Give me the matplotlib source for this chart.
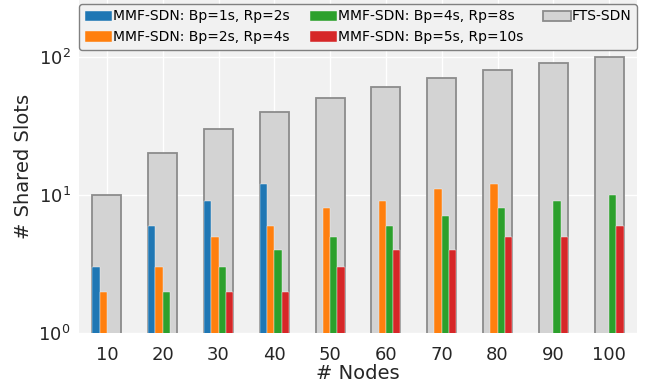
import matplotlib
matplotlib.use("Agg")
import matplotlib.pyplot as plt
import numpy as np

nodes = [10, 20, 30, 40, 50, 60, 70, 80, 90, 100]
fts_sdn = [10, 20, 30, 40, 50, 60, 70, 80, 90, 100]
mmf_1_2 = [3, 6, 9, 12, 0, 0, 0, 0, 0, 0]
mmf_2_4 = [2, 3, 5, 6, 8, 9, 11, 12, 0, 0]
mmf_4_8 = [0, 2, 3, 4, 5, 6, 7, 8, 9, 10]
mmf_5_10 = [0, 0, 2, 2, 3, 4, 4, 5, 5, 6]

series = [
    ("MMF-SDN: Bp=1s, Rp=2s", mmf_1_2, "#1f77b4"),
    ("MMF-SDN: Bp=2s, Rp=4s", mmf_2_4, "#ff7f0e"),
    ("MMF-SDN: Bp=4s, Rp=8s", mmf_4_8, "#2ca02c"),
    ("MMF-SDN: Bp=5s, Rp=10s", mmf_5_10, "#d62728"),
]

plt.rcParams['font.family'] = ['DejaVu Sans']
fig = plt.figure(figsize=(6.48, 3.86), dpi=100)
ax = fig.add_axes([0.122, 0.137, 0.861, 0.863])
ax.set_facecolor("#f1f1f1")

x = np.arange(len(nodes))
W = 0.52
w = W / 4

hf = ax.bar(x, fts_sdn, W, color="#d3d3d3", edgecolor="#8c8c8c", linewidth=1.3,
            label="FTS-SDN", zorder=2)
handles = []
for i, (lab, vals, col) in enumerate(series):
    v = np.array(vals, dtype=float)
    v[v == 0] = np.nan
    h = ax.bar(x + (i - 1.5) * w, v, w, color=col, edgecolor="#f5f5f5",
               linewidth=0.3, label=lab, zorder=3)
    handles.append(h)

ax.set_yscale("log")
ax.set_ylim(1, 257)
ax.set_xlim(-0.5, 9.5)
ax.set_xticks(x)
ax.set_xticklabels([str(n) for n in nodes])
ax.tick_params(axis='x', labelsize=13, colors="#262626", length=0, pad=9)
ax.tick_params(axis='y', labelsize=13, colors="#262626", length=0, pad=6)
ax.tick_params(axis='y', which='minor', length=0)
ax.grid(True, which='major', color="white", linewidth=1.0, zorder=0)
ax.set_axisbelow(True)
for s in ax.spines.values():
    s.set_visible(False)

ax.set_xlabel("# Nodes", fontsize=14, color="#262626", labelpad=0)
ax.set_ylabel("# Shared Slots", fontsize=14, color="#262626", labelpad=4)

leg = ax.legend(handles + [hf],
                [s[0] for s in series] + ["FTS-SDN"],
                ncol=3, mode="expand", loc="lower left",
                bbox_to_anchor=(0.0, 0.85, 1.0, 0.126),
                fontsize=10, handlelength=2.0, handleheight=0.75,
                handletextpad=0.05, columnspacing=0.5, borderpad=0.4,
                labelspacing=0.5, frameon=True, fancybox=True,
                borderaxespad=0)
leg.get_frame().set_edgecolor("#808080")
leg.get_frame().set_facecolor("#f1f1f1")
leg.get_frame().set_alpha(1.0)
leg.set_zorder(5)

fig.savefig("out.png", dpi=100)
